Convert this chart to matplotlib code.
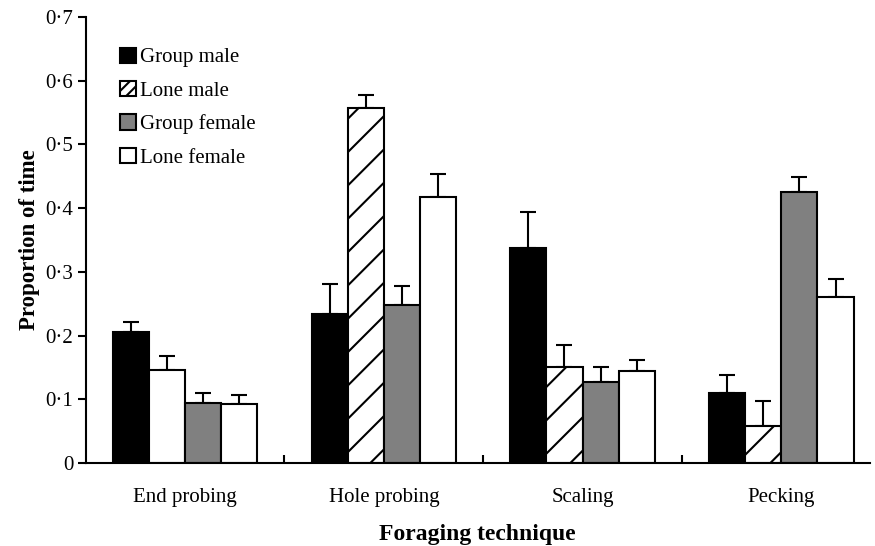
import numpy as np
import matplotlib
matplotlib.use("Agg")
import matplotlib.pyplot as plt
from matplotlib.ticker import FixedLocator, FuncFormatter

techniques = ["End probing", "Hole probing", "Scaling", "Pecking"]
groups = ["Group male", "Lone male", "Group female", "Lone female"]

group_male = [0.206, 0.234, 0.338, 0.110]
lone_male = [0.146, 0.557, 0.151, 0.058]
group_female = [0.094, 0.248, 0.127, 0.425]
lone_female = [0.093, 0.418, 0.144, 0.260]

group_male_err = [0.015, 0.047, 0.056, 0.028]
lone_male_err = [0.022, 0.021, 0.034, 0.039]
group_female_err = [0.016, 0.030, 0.024, 0.024]
lone_female_err = [0.014, 0.036, 0.018, 0.029]

plt.rcParams["font.family"] = ["Liberation Serif", "DejaVu Serif"]
plt.rcParams["hatch.linewidth"] = 1.5

values = [group_male, lone_male, group_female, lone_female]
errors = [group_male_err, lone_male_err, group_female_err, lone_female_err]
faces = ["black", "white", "#808080", "white"]
hatches = ["", "/", "", ""]

fig = plt.figure(figsize=(8.75, 5.46), dpi=100)
ax = fig.add_axes([0.098, 0.152, 0.896, 0.817])

x = np.arange(len(techniques))
width = 0.182
containers = []
for i, (name, vals, errs) in enumerate(zip(groups, values, errors)):
    pos = x + (i - 1.5) * width
    bars = ax.bar(pos, vals, width, color=faces[i], edgecolor="black",
                  linewidth=1.5, hatch=hatches[i], label=name, zorder=2)
    ax.errorbar(pos, vals, yerr=[np.zeros(len(errs)), errs], fmt="none",
                ecolor="black", elinewidth=1.5, capsize=6, capthick=1.5,
                zorder=1)
    containers.append(bars)

ax.set_xlim(-0.5, 3.445)
ax.set_ylim(0, 0.7)

for s in ["top", "right"]:
    ax.spines[s].set_visible(False)
for s in ["left", "bottom"]:
    ax.spines[s].set_linewidth(1.5)

ax.set_xticks(x)
ax.set_xticklabels(techniques, fontsize=15)
ax.tick_params(axis="x", which="major", length=0, pad=18)
ax.xaxis.set_minor_locator(FixedLocator([0.5, 1.5, 2.5]))
ax.tick_params(axis="x", which="minor", direction="in", length=6, width=1.5)

ax.set_yticks(np.arange(0, 0.71, 0.1))
ax.yaxis.set_major_formatter(FuncFormatter(
    lambda v, p: "0" if abs(v) < 1e-9 else f"{v:.1f}".replace(".", "\u00b7")))
ax.tick_params(axis="y", direction="out", length=6, width=1.5, labelsize=15, pad=3)

ax.set_ylabel("Proportion of time", fontsize=16.5, fontweight="bold", labelpad=4)
ax.set_xlabel("Foraging technique", fontsize=17, fontweight="bold", labelpad=12)

leg = ax.legend(loc="upper left", bbox_to_anchor=(0.033, 0.95), frameon=False,
                fontsize=15, handlelength=0.75, handleheight=0.75,
                handletextpad=0.2, labelspacing=0.65, borderaxespad=0)
# small legend square needs denser hatching to show the stripes
leg.legend_handles[1].set_hatch("///")

# first lone-male bar is printed without hatching in the original
containers[1][0].set_hatch("")

fig.savefig("out.png", dpi=100)
